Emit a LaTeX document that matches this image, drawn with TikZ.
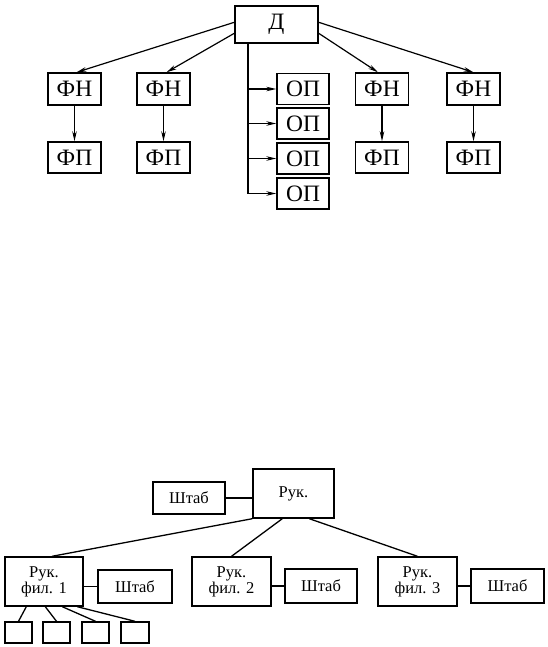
\documentclass[tikz,border=0pt]{standalone}
\usepackage{fontspec}
\setmainfont{Liberation Serif}
\usetikzlibrary{calc,arrows.meta}
\begin{document}
\begin{tikzpicture}[x=1pt,y=-1pt,
  bx/.style={draw,line width=1.4pt,inner sep=0pt,align=center},
  bigtxt/.style={font=\fontsize{23.5}{25}\selectfont},
  smtxt/.style={font=\fontsize{16.5}{16}\selectfont},
  ln/.style={line width=1.3pt},
  arr/.style={line width=1.2pt,-{Stealth[length=10pt,width=4.5pt]}}]
\useasboundingbox (0,0) rectangle (548,647);
% ---- top diagram ----
\node[bx,bigtxt,minimum width=83pt,minimum height=37pt] (d) at (276.5,24.5) {Д};
\foreach \n/\x in {1/74.5,2/163.5,3/382,4/473.5}{
  \node[bx,bigtxt,minimum width=53pt,minimum height=32pt] (fn\n) at (\x,89) {ФН};
  \node[bx,bigtxt,minimum width=53pt,minimum height=31pt] (fp\n) at (\x,157.5) {ФП};
  \draw[arr] (fn\n.south) -- (fp\n.north);
}
\foreach \n/\y in {1/89,2/123.5,3/158.5,4/193.5}{
  \node[bx,bigtxt,minimum width=52pt,minimum height=31pt] (op\n) at (303,\y) {ОП};
}
\coordinate (trunk) at (248,0);
\draw[ln] (trunk |- d.south) -- (trunk |- op4.west);
\foreach \n in {1,...,4}{
  \draw[arr] (trunk |- op\n.west) -- (op\n.west);
}
\draw[arr] ($(d.north west)+(0,17)$) -- ($(fn1.north)+(2,0)$);
\draw[arr] ($(d.north west)+(0,28)$) -- ($(fn2.north)+(3,0)$);
\draw[arr] ($(d.north east)+(0,28)$) -- ($(fn3.north)+(-4,0)$);
\draw[arr] ($(d.north east)+(0,17)$) -- (fn4.north);
% ---- bottom diagram ----
\node[bx,smtxt,minimum width=81pt,minimum height=49pt] (ruk) at (293.5,493.5) {Рук.};
\node[bx,smtxt,minimum width=72pt,minimum height=32pt] (sh0) at (189,498) {Штаб};
\draw[ln] (sh0.east) -- (sh0.east -| ruk.west);
\node[bx,smtxt,minimum width=78pt,minimum height=49pt] (f1) at (44,581.5) {Рук.\\фил. 1};
\node[bx,smtxt,minimum width=79pt,minimum height=49pt] (f2) at (231.5,581.5) {Рук.\\фил. 2};
\node[bx,smtxt,minimum width=79pt,minimum height=49pt] (f3) at (417.5,581.5) {Рук.\\фил. 3};
\node[bx,smtxt,minimum width=74pt,minimum height=33pt] (sh1) at (135,586.5) {Штаб};
\node[bx,smtxt,minimum width=72pt,minimum height=34pt] (sh2) at (321,586) {Штаб};
\node[bx,smtxt,minimum width=73pt,minimum height=34pt] (sh3) at (507.5,586) {Штаб};
\foreach \n in {1,2,3}{
  \draw[ln] (sh\n.west -| f\n.east) -- (sh\n.west);
}
\draw[ln] (ruk.south west) -- ($(f1.north)+(8,0)$);
\draw[ln] ($(ruk.south west)+(30,0)$) -- (f2.north);
\draw[ln] ($(ruk.south west)+(57,0)$) -- (f3.north);
\foreach \n/\x/\w/\s in {1/18.5/27/22,2/56.5/27/41,3/95.5/27/58,4/135/28/73}{
  \node[bx,minimum width=\w pt,minimum height=21pt] (s\n) at (\x,632.5) {};
  \draw[ln] ($(f1.south west)+(\s,0)$) -- (s\n.north);
}
\end{tikzpicture}
\end{document}
